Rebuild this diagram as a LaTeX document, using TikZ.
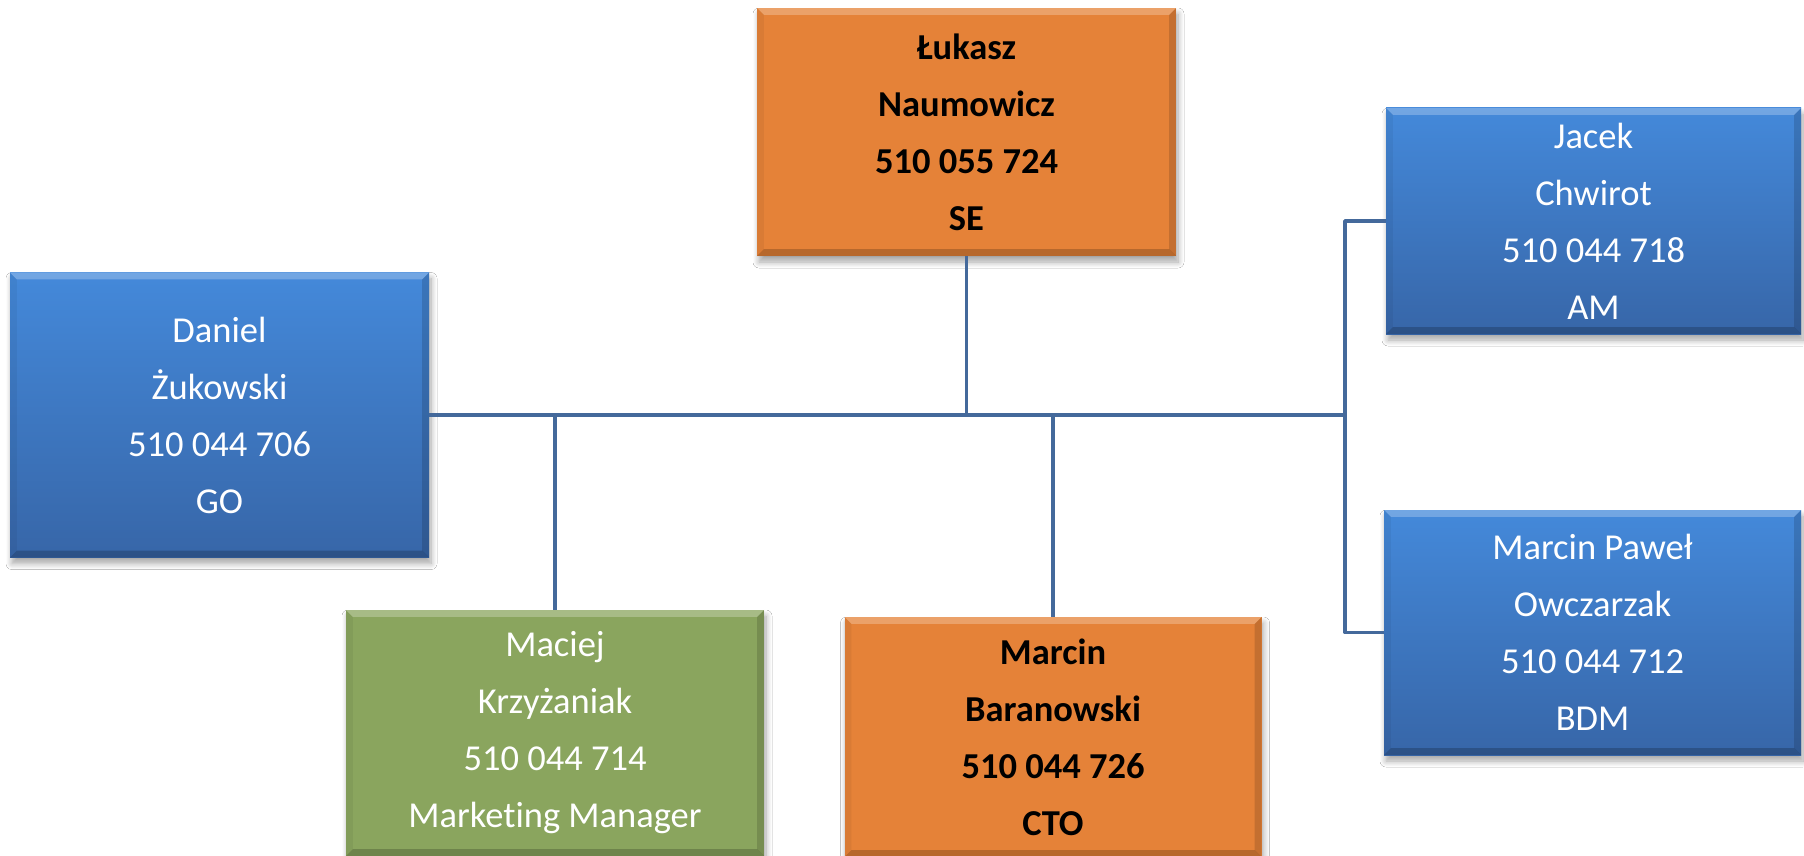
\documentclass[tikz,border=0pt]{standalone}
\usepackage{fontspec}
\setmainfont{Carlito}[Ligatures=NoCommon]
\usetikzlibrary{shadows.blur,calc}
\definecolor{blueT}{RGB}{68,137,218}
\definecolor{blueB}{RGB}{55,102,168}
\definecolor{orangeF}{RGB}{229,130,56}
\definecolor{greenF}{RGB}{138,165,94}
\definecolor{linec}{RGB}{68,105,155}
\newcommand\bevelbox[1]{%
  \fill[white, opacity=.25] (#1.north west) -- (#1.north east) -- ([xshift=-7pt,yshift=-7pt]#1.north east) -- ([xshift=7pt,yshift=-7pt]#1.north west) -- cycle;
  \fill[black, opacity=.05] (#1.north west) -- (#1.south west) -- ([xshift=7pt,yshift=7pt]#1.south west) -- ([xshift=7pt,yshift=-7pt]#1.north west) -- cycle;
  \fill[black, opacity=.14] (#1.north east) -- (#1.south east) -- ([xshift=-7pt,yshift=7pt]#1.south east) -- ([xshift=-7pt,yshift=-7pt]#1.north east) -- cycle;
  \fill[black, opacity=.2] (#1.south west) -- (#1.south east) -- ([xshift=-7pt,yshift=7pt]#1.south east) -- ([xshift=7pt,yshift=7pt]#1.south west) -- cycle;
}
\begin{document}
\begin{tikzpicture}[x=1pt,y=-1pt,
  card/.style={rectangle, inner sep=0pt, align=center,
    font=\fontsize{36.5}{57}\selectfont,
    blur shadow={shadow xshift=2pt, shadow yshift=-6pt, shadow blur steps=8, shadow opacity=35, shadow blur radius=6pt}},
  bluecard/.style={card, top color=blueT, bottom color=blueB, text=white},
  orangecard/.style={card, fill=orangeF, text=black, font=\fontsize{36.5}{57}\selectfont\bfseries},
  greencard/.style={card, fill=greenF, text=white},
  conn/.style={draw=linec, line width=3.5pt, line join=round}]
\useasboundingbox (0,0) rectangle (1804,856);
\fill[white] (0,0) rectangle (1804,856);

\node[orangecard, minimum width=419pt, minimum height=248pt] (se) at (966.5,132) {Łukasz\\Naumowicz\\510 055 724\\SE};
\node[bluecard, minimum width=419pt, minimum height=285pt] (dan) at (219.5,415) {Daniel\\Żukowski\\510 044 706\\GO};
\node[bluecard, minimum width=415pt, minimum height=226pt] (jac) at (1593.5,221) {Jacek\\Chwirot\\510 044 718\\AM};
\node[bluecard, minimum width=417pt, minimum height=245pt] (mpo) at (1592.5,632.5) {Marcin Paweł\\Owczarzak\\510 044 712\\BDM};
\node[greencard, minimum width=418pt, minimum height=246pt] (mac) at (555,733) {Maciej\\Krzyżaniak\\510 044 714\\Marketing Manager};
\node[orangecard, minimum width=417pt, minimum height=240pt] (cto) at (1053,737) {Marcin\\Baranowski\\510 044 726\\CTO};

\bevelbox{se}
\bevelbox{dan}
\bevelbox{jac}
\bevelbox{mpo}
\bevelbox{mac}
\bevelbox{cto}

\coordinate (bus) at (1345,415);
\draw[conn] (se.south) -- (se.south |- bus);
\draw[conn] (dan.east) -- (bus);
\draw[conn] (mac.north) -- (mac.north |- bus);
\draw[conn] (cto.north) -- (cto.north |- bus);
\draw[conn] (jac.west) -| (bus) |- (mpo.west);
\end{tikzpicture}
\end{document}
